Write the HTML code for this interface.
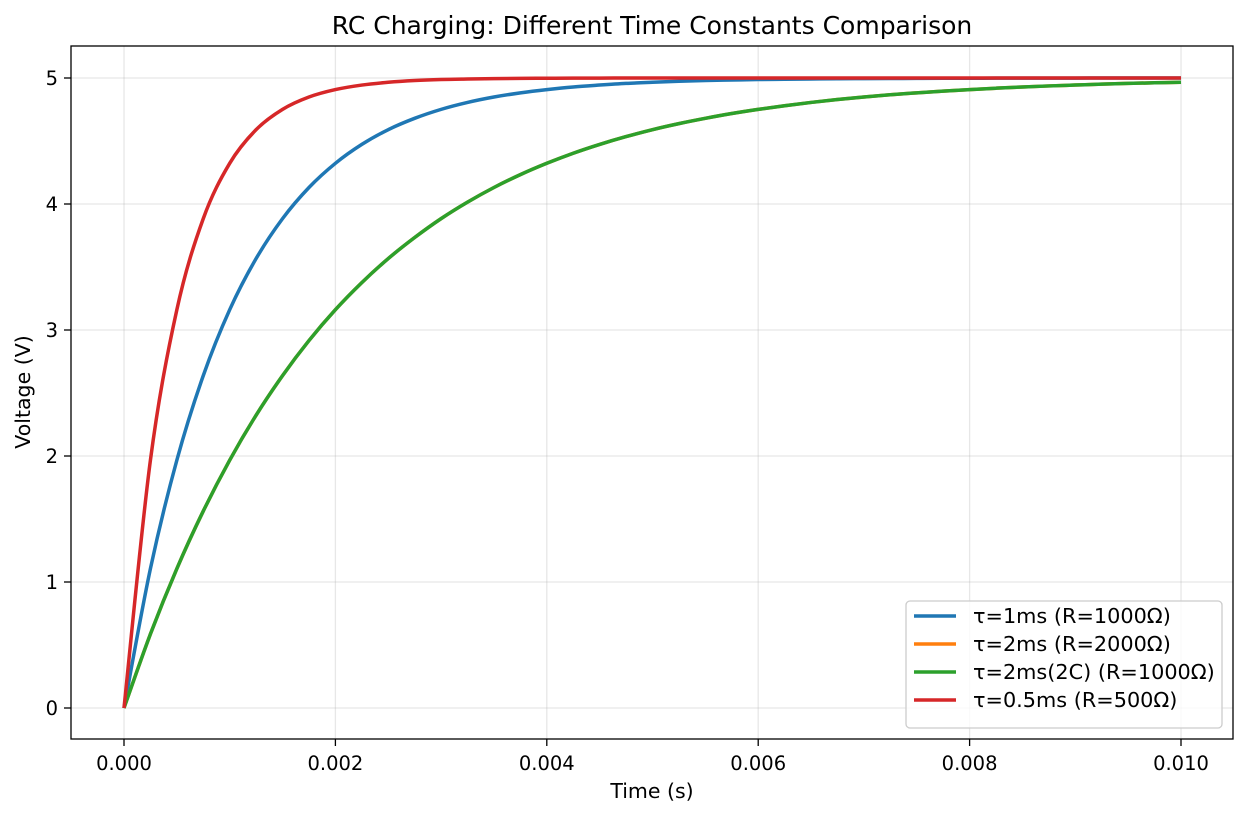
<!DOCTYPE html>
<html><head><meta charset="utf-8">
<style>
html,body{margin:0;padding:0;background:#fff;}
svg{display:block;font-family:"DejaVu Sans","Liberation Sans",sans-serif;}
</style></head>
<body>
<svg id="chart" width="1248" height="817" xmlns="http://www.w3.org/2000/svg">
<rect x="0" y="0" width="1248" height="817" fill="#fff"/>
<text x="652" y="34" text-anchor="middle" font-size="25" fill="#000">RC Charging: Different Time Constants Comparison</text>
<g id="grid"></g>
<g id="series"></g>
<rect x="71" y="46" width="1162" height="693" fill="none" stroke="#000" stroke-width="1.3"/>
<g id="xticks"></g>
<g id="yticks"></g>
<text x="652" y="798" text-anchor="middle" font-size="20.5">Time (s)</text>
<text transform="translate(30,392) rotate(-90)" text-anchor="middle" font-size="20.5">Voltage (V)</text>
<g id="legend"></g>
</svg>
<script>
const times = [0,0.00025,0.0005,0.00075,0.001,0.00125,0.0015,0.00175,0.002,0.00225,0.0025,0.00275,0.003,0.00325,0.0035,0.00375,0.004,0.00425,0.0045,0.00475,0.005,0.00525,0.0055,0.00575,0.006,0.00625,0.0065,0.00675,0.007,0.00725,0.0075,0.00775,0.008,0.00825,0.0085,0.00875,0.009,0.00925,0.0095,0.00975,0.01];
const tau1 = [0,1.106,1.967,2.638,3.161,3.567,3.884,4.131,4.323,4.473,4.590,4.680,4.751,4.806,4.849,4.882,4.908,4.929,4.944,4.957,4.966,4.974,4.980,4.984,4.988,4.990,4.992,4.994,4.995,4.996,4.997,4.998,4.998,4.999,4.999,4.999,4.999,5.0,5.0,5.0,5.0];
const tau2 = [0,0.587,1.106,1.563,1.967,2.324,2.638,2.916,3.161,3.376,3.567,3.734,3.884,4.015,4.131,4.233,4.323,4.403,4.473,4.535,4.590,4.638,4.680,4.718,4.751,4.780,4.806,4.829,4.849,4.867,4.882,4.896,4.908,4.919,4.929,4.937,4.944,4.951,4.957,4.962,4.966];
const tau2c = [0,0.587,1.106,1.563,1.967,2.324,2.638,2.916,3.161,3.376,3.567,3.734,3.884,4.015,4.131,4.233,4.323,4.403,4.473,4.535,4.590,4.638,4.680,4.718,4.751,4.780,4.806,4.829,4.849,4.867,4.882,4.896,4.908,4.919,4.929,4.937,4.944,4.951,4.957,4.962,4.966];
const tau05 = [0,1.967,3.161,3.884,4.323,4.590,4.751,4.849,4.908,4.944,4.966,4.980,4.988,4.992,4.995,4.997,4.998,4.999,4.999,5.0,5.0,5.0,5.0,5.0,5.0,5.0,5.0,5.0,5.0,5.0,5.0,5.0,5.0,5.0,5.0,5.0,5.0,5.0,5.0,5.0,5.0];
const xTicks = [0,0.002,0.004,0.006,0.008,0.010];
const xTickLabels = ["0.000","0.002","0.004","0.006","0.008","0.010"];
const yTicks = [0,1,2,3,4,5];
const legendLabels = ["τ=1ms (R=1000Ω)","τ=2ms (R=2000Ω)","τ=2ms(2C) (R=1000Ω)","τ=0.5ms (R=500Ω)"];
const colors = ["#1f77b4","#ff7f0e","#2ca02c","#d62728"];

const NS="http://www.w3.org/2000/svg";
function xs(t){return 124+(t/0.01)*(1181-124);}
function ys(v){return 708-v*(708-78)/5;}
function mk(tag,attrs,parent){const e=document.createElementNS(NS,tag);for(const k in attrs)e.setAttribute(k,attrs[k]);parent.appendChild(e);return e;}
const grid=document.getElementById('grid'),xt=document.getElementById('xticks'),yt=document.getElementById('yticks');
xTicks.forEach((t,i)=>{
  const X=xs(t);
  const g=mk('line',{x1:X,x2:X,y1:46,y2:739,stroke:'#b0b0b0','stroke-opacity':0.3,'stroke-width':1.3},grid);
  
  
  const tk=mk('line',{x1:X,x2:X,y1:739,y2:746,stroke:'#000','stroke-width':1.3},xt);
  
  
  const tx=mk('text',{x:X,y:770,'text-anchor':'middle','font-size':19.5},xt);
  tx.textContent=xTickLabels[i];
  
  
});
yTicks.forEach(v=>{
  const Y=ys(v);
  const g=mk('line',{x1:71,x2:1233,y1:Y,y2:Y,stroke:'#b0b0b0','stroke-opacity':0.3,'stroke-width':1.3},grid);
  
  
  const tk=mk('line',{x1:64,x2:71,y1:Y,y2:Y,stroke:'#000','stroke-width':1.3},yt);
  
  
  const tx=mk('text',{x:58,y:Y+7,'text-anchor':'end','font-size':19.5},yt);
  tx.textContent=String(v);
  
  
});
function smoothPath(vals){
  const p=times.map((t,i)=>[xs(t),ys(vals[i])]);
  let d='M'+p[0][0]+','+p[0][1];
  for(let i=0;i<p.length-1;i++){
    const p0=p[Math.max(0,i-1)],p1=p[i],p2=p[i+1],p3=p[Math.min(p.length-1,i+2)];
    const c1=[p1[0]+(p2[0]-p0[0])/6,p1[1]+(p2[1]-p0[1])/6];
    const c2=[p2[0]-(p3[0]-p1[0])/6,p2[1]-(p3[1]-p1[1])/6];
    d+=` C${c1[0]},${c1[1]} ${c2[0]},${c2[1]} ${p2[0]},${p2[1]}`;
  }
  return d;
}
const seriesG=document.getElementById('series');
const allSeries=[tau1,tau2,tau2c,tau05];
const sNames=['line-tau-1ms','line-tau-2ms','line-tau-2ms-2c','line-tau-0-5ms'];
allSeries.forEach((s,i)=>{
  const p=mk('path',{d:smoothPath(s),fill:'none',stroke:colors[i],'stroke-width':3.5,'stroke-linejoin':'round'},seriesG);
  
  
});
const lg=document.getElementById('legend');
const box=mk('rect',{x:906,y:601,width:316,height:127,rx:4,fill:'#fff','fill-opacity':0.8,stroke:'#ccc','stroke-width':1.3},lg);


legendLabels.forEach((l,i)=>{
  const Y=616+i*28;
  const ln=mk('line',{x1:914,x2:956,y1:Y,y2:Y,stroke:colors[i],'stroke-width':3.5},lg);
  
  
  const t=mk('text',{x:973,y:Y+7,'font-size':20.8},lg);
  t.textContent=l;
  
  
});
</script>
</body></html>
